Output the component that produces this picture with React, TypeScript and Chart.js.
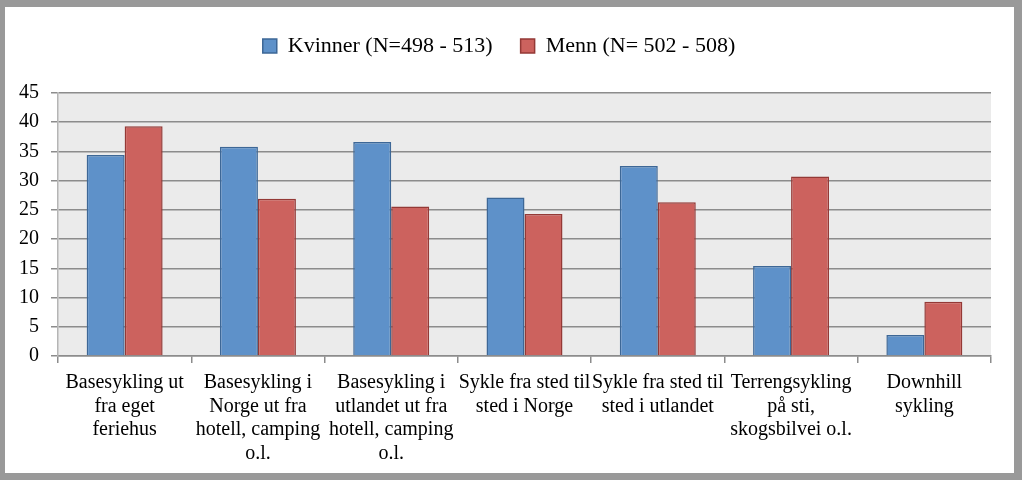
import React, { useEffect, useRef } from "react";
import { Chart, registerables } from "chart.js";

Chart.register(...registerables);

const categories: string[][] = [
  ["Basesykling ut", "fra eget", "feriehus"],
  ["Basesykling i", "Norge ut fra", "hotell, camping", "o.l."],
  ["Basesykling i", "utlandet ut fra", "hotell, camping", "o.l."],
  ["Sykle fra sted til", "sted i Norge"],
  ["Sykle fra sted til", "sted i utlandet"],
  ["Terrengsykling", "på sti,", "skogsbilvei o.l."],
  ["Downhill", "sykling"],
];

const kvinner: number[] = [34.4, 35.8, 36.6, 27.1, 32.5, 15.4, 3.6];
const menn: number[] = [39.3, 26.9, 25.6, 24.3, 26.3, 30.7, 9.3];

const seriesNames: string[] = ["Kvinner (N=498 - 513)", "Menn (N= 502 - 508)"];

const yMin = 0;
const yMax = 45;
const yStep = 5;

const FONT = "'Liberation Serif', 'DejaVu Serif', serif";

const plotBg = {
  id: "plotBg",
  beforeDraw(chart: any) {
    const { ctx, chartArea } = chart;
    if (!chartArea) return;
    ctx.save();
    ctx.fillStyle = "#EBEBEB";
    ctx.fillRect(chartArea.left, chartArea.top, chartArea.right - chartArea.left, chartArea.bottom - chartArea.top);
    ctx.restore();
  },
};

const legendGap = {
  id: "legendGap",
  beforeInit(chart: any) {
    const legend = chart.legend;
    if (!legend) return;
    const orig = legend.fit;
    legend.fit = function () {
      orig.call(this);
      this.height += 26;
    };
  },
};

export default function App() {
  const ref = useRef<HTMLCanvasElement | null>(null);

  useEffect(() => {
    document.body.style.margin = "0";
    const canvas = ref.current;
    if (!canvas) return;
    const chart = new Chart(canvas, {
      type: "bar",
      data: {
        labels: categories,
        datasets: [
          {
            label: seriesNames[0],
            data: kvinner,
            backgroundColor: "#5E91C9",
            borderColor: "#3D6796",
            borderWidth: 1.5,
          },
          {
            label: seriesNames[1],
            data: menn,
            backgroundColor: "#CC625E",
            borderColor: "#943936",
            borderWidth: 1.5,
          },
        ],
      },
      options: {
        responsive: false,
        animation: false,
        layout: { padding: { top: 0, left: 2, right: 23, bottom: 0 } },
        datasets: {
          bar: { categoryPercentage: 0.57, barPercentage: 1.0 },
        },
        plugins: {
          legend: {
            position: "top",
            labels: {
              font: { family: FONT, size: 22 },
              color: "#000",
              boxWidth: 14,
              boxHeight: 14,
              padding: 28,
            },
          },
          tooltip: { enabled: false },
        },
        scales: {
          x: {
            offset: true,
            grid: {
              display: true,
              offset: true,
              drawOnChartArea: false,
              drawTicks: true,
              tickLength: 7,
              color: "#8c8c8c",
              lineWidth: 1.5,
            },
            border: { display: true, color: "#8c8c8c", width: 1.5 },
            ticks: {
              autoSkip: false,
              maxRotation: 0,
              minRotation: 0,
              padding: 8,
              color: "#000",
              font: { family: FONT, size: 20, lineHeight: 1.175 },
            },
          },
          y: {
            min: yMin,
            max: yMax,
            ticks: {
              stepSize: yStep,
              padding: 12,
              color: "#000",
              font: { family: FONT, size: 20 },
            },
            grid: {
              color: "#8c8c8c",
              lineWidth: 1.5,
              drawTicks: true,
              tickLength: 7,
            },
            border: { display: true, color: "#b5b5b5", width: 1.5 },
          },
        },
      },
      plugins: [plotBg, legendGap],
    });
    return () => chart.destroy();
  }, []);

  return (
    <div style={{ position: "relative", width: 1024, height: 482, background: "#fff" }}>
      <div
        style={{
          position: "absolute",
          left: 0,
          top: 0,
          width: 1022,
          height: 480,
          boxSizing: "border-box",
          borderStyle: "solid",
          borderColor: "#999999",
          borderWidth: "7px 8px 7px 5px",
          background: "#fff",
        }}
      >
        <canvas ref={ref} width={1009} height={466} style={{ display: "block" }} />
      </div>
    </div>
  );
}
